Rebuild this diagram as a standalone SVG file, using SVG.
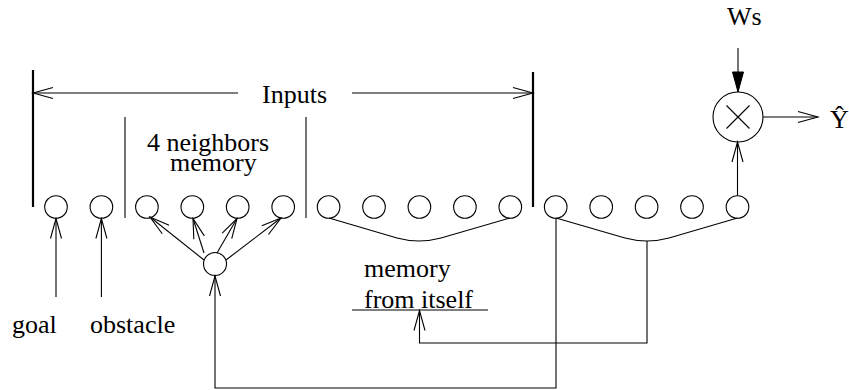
<svg xmlns="http://www.w3.org/2000/svg" width="849" height="390" viewBox="0 0 849 390">
<style>
  .n { fill: #fff; stroke: #000; stroke-width: 1.1; }
  .c { fill: none; stroke: #000; stroke-width: 1.1; }
  .bar { fill: none; stroke: #000; stroke-width: 2.2; }
  .t { font-family: "Liberation Serif", "Times New Roman", serif; font-size: 26px; fill: #000; }
</style>
<defs>
  <marker id="open" markerUnits="userSpaceOnUse" markerWidth="24" markerHeight="14" viewBox="-21 -7 22 14" refX="0" refY="0" orient="auto">
    <path d="M-20,-5.5 L0,0 L-20,5.5" fill="none" stroke="#000" stroke-width="1.1"/>
  </marker>
  <marker id="solid" markerUnits="userSpaceOnUse" markerWidth="24" markerHeight="14" viewBox="-21 -7 22 14" refX="0" refY="0" orient="auto">
    <path d="M-20,-5.5 L0,0 L-20,5.5 Z" fill="#000" stroke="#000" stroke-width="1"/>
  </marker>
</defs>

<g id="brackets">
  <line class="bar" x1="33" y1="70" x2="33" y2="207"/>
  <line class="bar" x1="533" y1="72" x2="533" y2="207"/>
  <line class="c" x1="125" y1="117" x2="125" y2="218"/>
  <line class="c" x1="306" y1="117" x2="306" y2="218"/>
</g>

<g id="labels">
  <text class="t" x="262" y="103">Inputs</text>
  <text class="t" x="147" y="151">4 neighbors</text>
  <text class="t" x="170" y="171">memory</text>
  <text class="t" x="12" y="333">goal</text>
  <text class="t" x="90" y="333">obstacle</text>
  <text class="t" x="364" y="277">memory</text>
  <text class="t" x="364" y="308">from itself</text>
  <text class="t" x="727" y="25">Ws</text>
  <text class="t" x="830" y="128">Ŷ</text>
</g>

<g id="node-goal"><circle class="n" cx="56" cy="207" r="11.3"/></g>
<g id="node-obstacle"><circle class="n" cx="101.4" cy="207" r="11.3"/></g>
<g id="node-nb1"><circle class="n" cx="146.9" cy="207" r="11.3"/></g>
<g id="node-nb2"><circle class="n" cx="192.3" cy="207" r="11.3"/></g>
<g id="node-nb3"><circle class="n" cx="237.7" cy="207" r="11.3"/></g>
<g id="node-nb4"><circle class="n" cx="283.2" cy="207" r="11.3"/></g>
<g id="node-m1"><circle class="n" cx="328.6" cy="207" r="11.3"/></g>
<g id="node-m2"><circle class="n" cx="374" cy="207" r="11.3"/></g>
<g id="node-m3"><circle class="n" cx="419.4" cy="207" r="11.3"/></g>
<g id="node-m4"><circle class="n" cx="464.9" cy="207" r="11.3"/></g>
<g id="node-m5"><circle class="n" cx="510.3" cy="207" r="11.3"/></g>
<g id="node-o1"><circle class="n" cx="555.7" cy="207" r="11.3"/></g>
<g id="node-o2"><circle class="n" cx="601.2" cy="207" r="11.3"/></g>
<g id="node-o3"><circle class="n" cx="646.6" cy="207" r="11.3"/></g>
<g id="node-o4"><circle class="n" cx="692" cy="207" r="11.3"/></g>
<g id="node-o5"><circle class="n" cx="737.5" cy="207" r="11.3"/></g>
<g id="node-hub"><circle class="n" cx="215" cy="264" r="11.5"/></g>
<g id="node-mult">
  <circle class="n" cx="738" cy="117" r="25"/>
  <line class="c" x1="726.5" y1="105.5" x2="749.5" y2="128.5"/>
  <line class="c" x1="749.5" y1="105.5" x2="726.5" y2="128.5"/>
</g>

<g id="connectors">
  <line class="c" x1="238" y1="93" x2="33" y2="93" marker-end="url(#open)"/>
  <line class="c" x1="352" y1="93" x2="533" y2="93" marker-end="url(#open)"/>
  <line class="c" x1="56" y1="297" x2="56" y2="218.5" marker-end="url(#open)"/>
  <line class="c" x1="101.4" y1="297" x2="101.4" y2="218.5" marker-end="url(#open)"/>
  <line class="c" x1="204" y1="260" x2="150" y2="217" marker-end="url(#open)"/>
  <line class="c" x1="204" y1="253" x2="193" y2="218.5" marker-end="url(#open)"/>
  <line class="c" x1="217" y1="253" x2="237" y2="218.5" marker-end="url(#open)"/>
  <line class="c" x1="226" y1="260" x2="281" y2="218" marker-end="url(#open)"/>
  <path class="c" d="M329,218 L397,238 Q419,244 441,238 L510,218"/>
  <path class="c" d="M556,218 L625,238 Q647,244 669,238 L737.5,218"/>
  <path class="c" d="M556,218 V388 H215 V276" marker-end="url(#open)"/>
  <line class="c" x1="352" y1="310" x2="488" y2="310"/>
  <path class="c" d="M647,241 V343 H419.5 V310.5" marker-end="url(#open)"/>
  <line class="c" x1="737.5" y1="195.7" x2="737.5" y2="142" marker-end="url(#open)"/>
  <line class="c" x1="738" y1="48" x2="738" y2="92" marker-end="url(#solid)"/>
  <line class="c" x1="763" y1="117" x2="818" y2="117" marker-end="url(#open)"/>
</g>
</svg>
